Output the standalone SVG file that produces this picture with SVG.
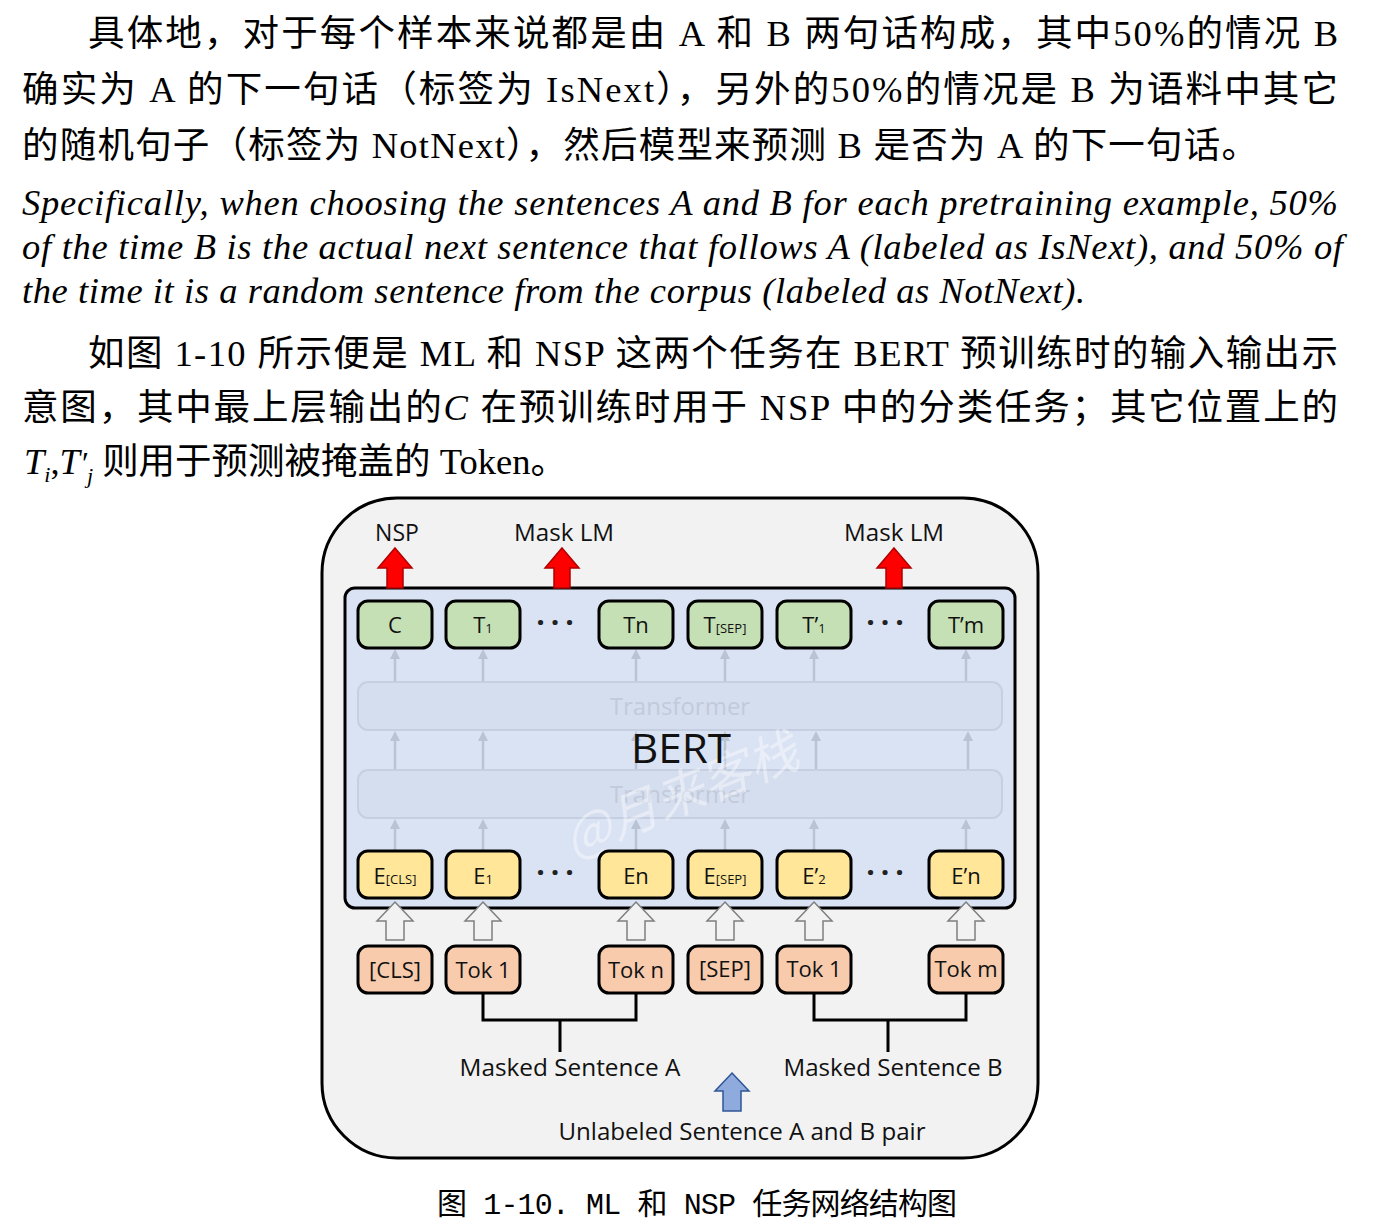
<svg xmlns="http://www.w3.org/2000/svg" width="1377" height="1226" viewBox="0 0 1377 1226">
<defs>
<style>
.p{font-family:"Liberation Serif","Noto Sans CJK SC",serif;font-size:36.5px;fill:#000}
.it{font-family:"Liberation Serif",serif;font-style:italic;font-size:36.5px;fill:#000}
.d{font-family:"Open Sans","Noto Sans",sans-serif;fill:#111}
.lbl{font-size:23px}
.bx{font-size:22px;text-anchor:middle}
.sub{font-size:13px}
.tbox{fill:#c5e0b4;stroke:#000;stroke-width:3}
.ebox{fill:#ffe699;stroke:#000;stroke-width:3}
.kbox{fill:#f8cbad;stroke:#000;stroke-width:3}
.garrow{stroke:#b9c3d4;stroke-width:2.5;fill:none}
.red{fill:#ff0000;stroke:#b00000;stroke-width:1.5}
.hollow{fill:#f2f2f2;stroke:#7f7f7f;stroke-width:1.5}
.tf{fill:#d5deef;stroke:#c5cfe1;stroke-width:2}
.tft{font-family:"Open Sans","Noto Sans",sans-serif;font-size:24px;fill:#c2cada;text-anchor:middle}
.br{stroke:#000;stroke-width:3;fill:none}
.dots{font-family:"Open Sans","Noto Sans",sans-serif;font-size:30px;font-weight:bold;fill:#222;text-anchor:middle}
</style>
<marker id="ga" viewBox="0 0 10 10" refX="5" refY="5" markerWidth="4" markerHeight="4" orient="auto">
<path d="M0,0 L10,5 L0,10 z" fill="#b9c3d4"/>
</marker>
</defs>
<rect width="1377" height="1226" fill="#fff"/>

<g id="paragraphs">
<text class="p" x="88" y="46" textLength="1250" lengthAdjust="spacing">具体地，对于每个样本来说都是由 A 和 B 两句话构成，其中50%的情况 B</text>
<text class="p" x="22" y="102" textLength="1316" lengthAdjust="spacing">确实为 A 的下一句话（标签为 IsNext），另外的50%的情况是 B 为语料中其它</text>
<text class="p" x="22" y="158" textLength="1236" lengthAdjust="spacing">的随机句子（标签为 NotNext），然后模型来预测 B 是否为 A 的下一句话。</text>
<text class="it" x="22" y="215" textLength="1316" lengthAdjust="spacing">Specifically, when choosing the sentences A and B for each pretraining example, 50%</text>
<text class="it" x="22" y="259" textLength="1321" lengthAdjust="spacing">of the time B is the actual next sentence that follows A (labeled as IsNext), and 50% of</text>
<text class="it" x="22" y="303" textLength="1063" lengthAdjust="spacing">the time it is a random sentence from the corpus (labeled as NotNext).</text>
<text class="p" x="88" y="366" textLength="1250" lengthAdjust="spacing">如图 1-10 所示便是 ML 和 NSP 这两个任务在 BERT 预训练时的输入输出示</text>
<text class="p" x="22" y="420" textLength="1316" lengthAdjust="spacing">意图，其中最上层输出的<tspan font-style="italic">C</tspan> 在预训练时用于  NSP  中的分类任务；其它位置上的</text>
<text class="p" x="24" y="474"><tspan font-style="italic">T</tspan><tspan font-style="italic" font-size="22" dy="8">i</tspan><tspan dy="-8">,</tspan><tspan font-style="italic">T</tspan><tspan font-style="italic" font-size="32">′</tspan><tspan font-style="italic" font-size="22" dy="9">j</tspan><tspan dy="-9"> 则用于预测被掩盖的 Token。</tspan></text>
</g>

<g id="frame">
<rect x="322" y="498" width="716" height="660" rx="75" fill="#f2f2f2" stroke="#000" stroke-width="3"/>
</g>

<g id="bert">
<rect x="345" y="588" width="670" height="320" rx="10" fill="#dae3f3" stroke="#000" stroke-width="3"/>
<rect class="tf" x="358" y="682" width="644" height="48" rx="10"/>
<rect class="tf" x="358" y="770" width="644" height="48" rx="10"/>
<text class="tft" x="680" y="715">Transformer</text>
<text class="tft" x="680" y="803">Transformer</text>
</g>

<g id="connectors">
<g class="garrow" marker-end="url(#ga)">
<line x1="395" y1="681" x2="395" y2="654"/><line x1="483" y1="681" x2="483" y2="654"/><line x1="636" y1="681" x2="636" y2="654"/><line x1="725" y1="681" x2="725" y2="654"/><line x1="814" y1="681" x2="814" y2="654"/><line x1="966" y1="681" x2="966" y2="654"/>
<line x1="395" y1="769" x2="395" y2="736"/><line x1="483" y1="769" x2="483" y2="736"/><line x1="636" y1="769" x2="636" y2="736"/><line x1="725" y1="769" x2="725" y2="736"/><line x1="816" y1="769" x2="816" y2="736"/><line x1="968" y1="769" x2="968" y2="736"/>
<line x1="395" y1="850" x2="395" y2="824"/><line x1="483" y1="850" x2="483" y2="824"/><line x1="636" y1="850" x2="636" y2="824"/><line x1="725" y1="850" x2="725" y2="824"/><line x1="814" y1="850" x2="814" y2="824"/><line x1="966" y1="850" x2="966" y2="824"/>
</g>
<polygon class="red" points="395,548 412,568 403,568 403,588 387,588 387,568 378,568"/>
<polygon class="red" points="562,548 579,568 570,568 570,588 554,588 554,568 545,568"/>
<polygon class="red" points="894,548 911,568 902,568 902,588 886,588 886,568 877,568"/>
<g class="hollow">
<polygon points="395,902 413,921 404,921 404,940 386,940 386,921 377,921"/>
<polygon points="483,902 501,921 492,921 492,940 474,940 474,921 465,921"/>
<polygon points="636,902 654,921 645,921 645,940 627,940 627,921 618,921"/>
<polygon points="725,902 743,921 734,921 734,940 716,940 716,921 707,921"/>
<polygon points="814,902 832,921 823,921 823,940 805,940 805,921 796,921"/>
<polygon points="966,902 984,921 975,921 975,940 957,940 957,921 948,921"/>
</g>
<path class="br" d="M483,993 V1020 H636 V993 M560,1020 V1052"/>
<path class="br" d="M814,993 V1020 H966 V993 M888,1020 V1052"/>
<polygon points="732,1073 749,1091 741,1091 741,1111 723,1111 723,1091 715,1091" fill="#8faadc" stroke="#2f5597" stroke-width="1.5"/>
</g>

<g id="watermark">
<text x="683" y="812" transform="rotate(-22 683 800)" font-family="Noto Sans CJK SC,sans-serif" font-size="50" font-style="italic" fill="#ffffff" fill-opacity="0.4" text-anchor="middle">@月来客栈</text>
</g>

<g id="top-labels" class="d lbl">
<text x="397" y="541" text-anchor="middle">NSP</text>
<text x="564" y="541" text-anchor="middle" textLength="100" lengthAdjust="spacingAndGlyphs">Mask LM</text>
<text x="894" y="541" text-anchor="middle" textLength="100" lengthAdjust="spacingAndGlyphs">Mask LM</text>
</g>

<g id="node-C"><rect class="tbox" x="358" y="601" width="74" height="47" rx="10"/><text class="d bx" x="395" y="633">C</text></g>
<g id="node-T1"><rect class="tbox" x="446" y="601" width="74" height="47" rx="10"/><text class="d bx" x="483" y="633">T<tspan class="sub">1</tspan></text></g>
<g id="node-Tn"><rect class="tbox" x="599" y="601" width="74" height="47" rx="10"/><text class="d bx" x="636" y="633">Tn</text></g>
<g id="node-TSEP"><rect class="tbox" x="688" y="601" width="74" height="47" rx="10"/><text class="d bx" x="725" y="633">T<tspan class="sub">[SEP]</tspan></text></g>
<g id="node-Tp1"><rect class="tbox" x="777" y="601" width="74" height="47" rx="10"/><text class="d bx" x="814" y="633">T’<tspan class="sub">1</tspan></text></g>
<g id="node-Tpm"><rect class="tbox" x="929" y="601" width="74" height="47" rx="10"/><text class="d bx" x="966" y="633">T’m</text></g>
<g id="dots"><text class="dots" x="558" y="633" letter-spacing="6">···</text><text class="dots" x="888" y="633" letter-spacing="6">···</text><text class="dots" x="558" y="883" letter-spacing="6">···</text><text class="dots" x="888" y="883" letter-spacing="6">···</text></g>

<g id="bert-label"><text class="d" x="681" y="763" font-size="41" text-anchor="middle" textLength="100" lengthAdjust="spacingAndGlyphs">BERT</text></g>

<g id="node-ECLS"><rect class="ebox" x="358" y="851" width="74" height="47" rx="10"/><text class="d bx" x="395" y="884">E<tspan class="sub">[CLS]</tspan></text></g>
<g id="node-E1"><rect class="ebox" x="446" y="851" width="74" height="47" rx="10"/><text class="d bx" x="483" y="884">E<tspan class="sub">1</tspan></text></g>
<g id="node-En"><rect class="ebox" x="599" y="851" width="74" height="47" rx="10"/><text class="d bx" x="636" y="884">En</text></g>
<g id="node-ESEP"><rect class="ebox" x="688" y="851" width="74" height="47" rx="10"/><text class="d bx" x="725" y="884">E<tspan class="sub">[SEP]</tspan></text></g>
<g id="node-Ep2"><rect class="ebox" x="777" y="851" width="74" height="47" rx="10"/><text class="d bx" x="814" y="884">E’<tspan class="sub">2</tspan></text></g>
<g id="node-Epn"><rect class="ebox" x="929" y="851" width="74" height="47" rx="10"/><text class="d bx" x="966" y="884">E’n</text></g>

<g id="node-CLS"><rect class="kbox" x="358" y="946" width="74" height="47" rx="10"/><text class="d bx" x="395" y="978">[CLS]</text></g>
<g id="node-Tok1a"><rect class="kbox" x="446" y="946" width="74" height="47" rx="10"/><text class="d bx" x="483" y="978">Tok 1</text></g>
<g id="node-Tokn"><rect class="kbox" x="599" y="946" width="74" height="47" rx="10"/><text class="d bx" x="636" y="978">Tok n</text></g>
<g id="node-SEP"><rect class="kbox" x="688" y="946" width="74" height="47" rx="10"/><text class="d bx" x="725" y="977">[SEP]</text></g>
<g id="node-Tok1b"><rect class="kbox" x="777" y="946" width="74" height="47" rx="10"/><text class="d bx" x="814" y="977">Tok 1</text></g>
<g id="node-Tokm"><rect class="kbox" x="929" y="946" width="74" height="47" rx="10"/><text class="d bx" x="966" y="977">Tok m</text></g>

<g id="bottom-labels" class="d lbl">
<text x="570" y="1076" text-anchor="middle" textLength="221" lengthAdjust="spacingAndGlyphs">Masked Sentence A</text>
<text x="893" y="1076" text-anchor="middle" textLength="219" lengthAdjust="spacingAndGlyphs">Masked Sentence B</text>
<text x="742" y="1140" text-anchor="middle" textLength="367" lengthAdjust="spacingAndGlyphs">Unlabeled Sentence A and B pair</text>
</g>

<g id="caption">
<text x="437" y="1214" font-family="Liberation Mono,Noto Sans CJK SC,monospace" font-size="30" textLength="520" lengthAdjust="spacing">图 1-10. ML 和 NSP 任务网络结构图</text>
</g>
</svg>
